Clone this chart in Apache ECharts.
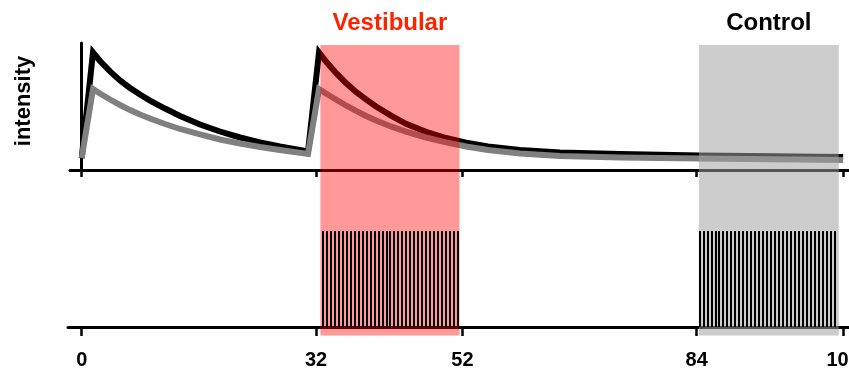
<!DOCTYPE html>
<html>
<head>
<meta charset="utf-8">
<script src="https://cdn.jsdelivr.net/npm/echarts@6/dist/echarts.min.js"></script>
<style>
  html, body { margin: 0; padding: 0; background: #fff; }
  #chart { width: 849px; height: 373px; }
</style>
</head>
<body>
<div id="chart"></div>
<script>
// Time axis ticks (s)
const tickValues = [0, 32, 52, 84, 104];

// Sampled time points of the two response traces (s)
const timePoints = [0, 1.54, 2.50, 3.87, 5.23, 6.60, 7.96, 9.33, 11.38, 13.43, 16.16, 18.89, 21.62, 24.35, 27.08, 30.91,
                    32.41, 33.37, 34.73, 36.10, 37.47, 38.83, 40.20, 42.25, 44.29, 47.03, 49.76, 52.49, 55.49,
                    59.86, 65.33, 73.52, 84.45, 104.0];
// Response intensity (arbitrary units)
const responseBlack = [0.094, 0.925, 0.858, 0.776, 0.705, 0.646, 0.594, 0.547, 0.484, 0.425, 0.358, 0.303, 0.256, 0.217, 0.185, 0.146,
                       0.925, 0.854, 0.764, 0.685, 0.614, 0.556, 0.500, 0.428, 0.364, 0.300, 0.252, 0.215, 0.185,
                       0.157, 0.138, 0.126, 0.114, 0.102];
const responseGrey  = [0.094, 0.638, 0.602, 0.555, 0.512, 0.472, 0.437, 0.406, 0.362, 0.323, 0.280, 0.240, 0.209, 0.181, 0.157, 0.126,
                       0.638, 0.602, 0.555, 0.508, 0.465, 0.425, 0.390, 0.343, 0.303, 0.256, 0.217, 0.185, 0.157,
                       0.130, 0.110, 0.098, 0.091, 0.079];

// Stimulation epochs
const epochNames = ['Vestibular', 'Control'];
const epochStart = [32.6, 84.3];
const epochEnd   = [51.6, 103.4];

// Pulse times within each epoch (s)
const pulsesVestibular = [33.00, 33.54, 34.08, 34.62, 35.16, 35.70, 36.23, 36.77, 37.31, 37.85, 38.39, 38.93,
                          39.47, 40.01, 40.55, 41.09, 41.63, 42.17, 42.71, 43.25, 43.78, 44.32, 44.86, 45.40,
                          45.94, 46.48, 47.02, 47.56, 48.10, 48.64, 49.18, 49.72, 50.26, 50.79, 51.33];
const pulsesControl = [84.40, 84.94, 85.48, 86.03, 86.57, 87.11, 87.65, 88.20, 88.74, 89.28, 89.82, 90.37,
                       90.91, 91.45, 91.99, 92.54, 93.08, 93.62, 94.16, 94.71, 95.25, 95.79, 96.33, 96.88,
                       97.42, 97.96, 98.50, 99.05, 99.59, 100.13, 100.67, 101.22, 101.76, 102.30, 102.84];
const pulseOn = 1;

const FONT = '"Liberation Sans", Arial, sans-serif';
const epochFill = ['rgba(255,0,0,0.4)', 'rgba(160,160,160,0.53)'];
const epochTextColor = ['#ff2200', '#000000'];

const chart = echarts.init(document.getElementById('chart'), null, { renderer: 'canvas' });

const pair = (xs, ys) => xs.map((x, i) => [x, ys[i]]);
const pulseData = pulsesVestibular.concat(pulsesControl).map(t => [t, 0, pulseOn]);
const epochData = epochNames.map((n, i) => ({ name: n, value: [epochStart[i], epochEnd[i], i] }));

const option = {
  animation: false,
  backgroundColor: '#ffffff',
  grid: [
    { left: 70, width: 779, top: 43, height: 127, outerBoundsMode: 'none' },
    { left: 68, width: 781, top: 231, height: 105.5, outerBoundsMode: 'none' },
    { left: 70, width: 779, top: 45, height: 290.5, outerBoundsMode: 'none' }
  ],
  xAxis: [
    {
      type: 'value', gridIndex: 0, min: -1.6, max: 104.8,
      axisLine: { show: true, lineStyle: { color: '#000', width: 3 } },
      axisTick: { show: true, customValues: tickValues, length: 7, lineStyle: { color: '#000', width: 2.5 } },
      axisLabel: { show: false },
      splitLine: { show: false }
    },
    {
      type: 'value', gridIndex: 1, min: -1.873, max: 104.8,
      axisLine: { show: true, lineStyle: { color: '#000', width: 3 } },
      axisTick: { show: true, customValues: tickValues, length: 9, lineStyle: { color: '#000', width: 2.5 } },
      axisLabel: {
        show: true, customValues: tickValues, margin: 14,
        color: '#000', fontFamily: FONT, fontWeight: 'bold', fontSize: 20
      },
      splitLine: { show: false }
    },
    {
      type: 'value', gridIndex: 2, min: -1.6, max: 104.8, show: false
    }
  ],
  yAxis: [
    {
      type: 'value', gridIndex: 0, min: 0, max: 1,
      axisLine: { show: true, lineStyle: { color: '#000', width: 3 } },
      axisTick: { show: false }, axisLabel: { show: false }, splitLine: { show: false }
    },
    { type: 'value', gridIndex: 1, min: -0.1, max: 1, show: false },
    { type: 'value', gridIndex: 2, min: 0, max: 1, show: false }
  ],
  graphic: [
    {
      type: 'text', x: 24, y: 101, rotation: Math.PI / 2,
      style: {
        text: 'intensity', fill: '#000', font: 'bold 22px ' + FONT,
        align: 'center', verticalAlign: 'middle'
      }
    }
  ],
  series: [
    {
      type: 'line', xAxisIndex: 0, yAxisIndex: 0, z: 2,
      data: pair(timePoints, responseBlack),
      showSymbol: false, symbol: 'none',
      lineStyle: { color: '#000', width: 6, join: 'miter', cap: 'butt' }
    },
    {
      type: 'line', xAxisIndex: 0, yAxisIndex: 0, z: 3,
      data: pair(timePoints, responseGrey),
      showSymbol: false, symbol: 'none',
      lineStyle: { color: '#808080', width: 6, join: 'miter', cap: 'butt' }
    },
    {
      type: 'custom', xAxisIndex: 2, yAxisIndex: 2, z: 5,
      data: epochData,
      renderItem: (params, api) => {
        const i = api.value(2);
        const p0 = api.coord([api.value(0), 1]);
        const p1 = api.coord([api.value(1), 0]);
        return {
          type: 'group',
          children: [
            {
              type: 'rect',
              shape: { x: p0[0], y: p0[1], width: p1[0] - p0[0], height: p1[1] - p0[1] },
              style: { fill: epochFill[i] }
            },
            {
              type: 'text',
              x: (p0[0] + p1[0]) / 2, y: p0[1] - 22,
              style: {
                text: epochNames[i], fill: epochTextColor[i],
                font: 'bold 24px ' + FONT, align: 'center', verticalAlign: 'middle'
              }
            }
          ]
        };
      }
    },
    {
      type: 'custom', xAxisIndex: 1, yAxisIndex: 1, z: 6,
      data: pulseData,
      renderItem: (params, api) => {
        const top = api.coord([api.value(0), api.value(2)]);
        const bot = api.coord([api.value(0), api.value(1)]);
        // snap each pulse to whole pixels so the bars stay crisp
        const x = Math.round(top[0]) - 1;
        return {
          type: 'rect',
          shape: { x: x, y: Math.round(top[1]), width: 2, height: Math.round(bot[1]) - Math.round(top[1]) },
          style: { fill: '#000' }
        };
      }
    }
  ]
};

chart.setOption(option);
</script>
</body>
</html>
